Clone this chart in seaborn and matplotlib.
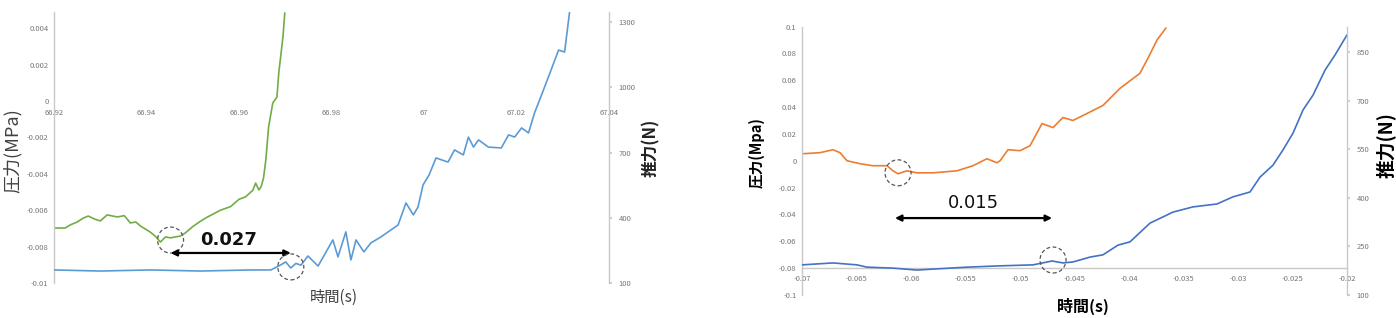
import numpy as np
import pandas as pd
import matplotlib
matplotlib.use("Agg")
import matplotlib.pyplot as plt
from matplotlib.patches import Circle
from matplotlib.transforms import ScaledTranslation
from matplotlib.ticker import FuncFormatter, FixedLocator
import seaborn as sns

# ---------------- data ----------------
# Left chart: pressure (MPa, left axis) and thrust (N, right axis) vs time (s)
left_p_time = [66.9200, 66.9224, 66.9235, 66.9250, 66.9262, 66.9274, 66.9287, 66.9300,
               66.9315, 66.9337, 66.9352, 66.9365, 66.9377, 66.9387, 66.9408, 66.9420,
               66.9430, 66.9441, 66.9452, 66.9462, 66.9473, 66.9484, 66.9500, 66.9517,
               66.9530, 66.9545, 66.9560, 66.9582, 66.9600, 66.9614, 66.9630, 66.9636,
               66.9643, 66.9648, 66.9653, 66.9658, 66.9664, 66.9673, 66.9682, 66.9686,
               66.9695, 66.9699]
left_pressure = [-0.00698, -0.00698, -0.00681, -0.00665, -0.00645, -0.00632, -0.00648, -0.00659,
                 -0.00626, -0.00637, -0.00630, -0.00670, -0.00665, -0.00687, -0.00720, -0.00745,
                 -0.00775, -0.00747, -0.00752, -0.00747, -0.00742, -0.00725, -0.00690, -0.00660,
                 -0.00640, -0.00620, -0.00600, -0.00580, -0.00540, -0.00527, -0.00490, -0.00451,
                 -0.00489, -0.00470, -0.00423, -0.00324, -0.00143, -0.00011, 0.00022, 0.00154,
                 0.00352, 0.00484]

left_t_time = [66.9200, 66.9300, 66.9408, 66.9517, 66.9625, 66.9669, 66.9690, 66.9701,
               66.9712, 66.9723, 66.9734, 66.9749, 66.9771, 66.9788, 66.9803, 66.9814,
               66.9831, 66.9842, 66.9853, 66.9870, 66.9885, 66.9907, 66.9944, 66.9961,
               66.9977, 66.9987, 66.9998, 67.0011, 67.0026, 67.0052, 67.0066, 67.0085,
               67.0096, 67.0107, 67.0118, 67.0139, 67.0167, 67.0183, 67.0196, 67.0211,
               67.0226, 67.0239, 67.0254, 67.0269, 67.0291, 67.0304, 67.0315]
left_thrust = [160, 155, 160, 155, 160, 160, 183, 197,
               169, 190, 182, 224, 178, 242, 298, 220,
               335, 206, 298, 243, 284, 312, 367, 468,
               413, 449, 551, 597, 675, 656, 712, 689,
               771, 725, 758, 725, 721, 781, 771, 813,
               790, 882, 964, 1047, 1171, 1162, 1350]

left_xticks = [66.92, 66.94, 66.96, 66.98, 67.00, 67.02, 67.04]
left_yticks = [0.004, 0.002, 0.0, -0.002, -0.004, -0.006, -0.008, -0.01]
left_y2ticks = [100, 400, 700, 1000, 1300]

# Right chart
right_p_time = [-0.07000, -0.06835, -0.06716, -0.06651, -0.06587, -0.06468, -0.06349, -0.06220,
                -0.06165, -0.06119, -0.06037, -0.05945, -0.05798, -0.05578, -0.05431, -0.05303,
                -0.05211, -0.05183, -0.05110, -0.05000, -0.04908, -0.04798, -0.04697, -0.04606,
                -0.04514, -0.04385, -0.04239, -0.04083, -0.03899, -0.03826, -0.03743, -0.03661]
right_pressure = [0.0052, 0.0060, 0.0082, 0.0060, 0.0000, -0.0022, -0.0037, -0.0037,
                  -0.0075, -0.0097, -0.0075, -0.0090, -0.0090, -0.0075, -0.0037, 0.0015,
                  -0.0015, 0.0000, 0.0082, 0.0075, 0.0112, 0.0277, 0.0247, 0.0322,
                  0.0300, 0.0352, 0.0412, 0.0539, 0.0652, 0.0764, 0.0899, 0.0989]

right_t_time = [-0.07000, -0.06716, -0.06495, -0.06404, -0.06165, -0.05945, -0.05798, -0.05486,
                -0.05183, -0.04881, -0.04706, -0.04606, -0.04514, -0.04358, -0.04239, -0.04101,
                -0.03991, -0.03807, -0.03596, -0.03413, -0.03193, -0.03046, -0.02890, -0.02798,
                -0.02679, -0.02587, -0.02495, -0.02404, -0.02312, -0.02202, -0.02110, -0.02000]
right_thrust = [193, 199, 193, 186, 183, 177, 180, 186,
                190, 193, 205, 199, 202, 217, 224, 254,
                264, 322, 356, 372, 381, 403, 418, 464,
                501, 548, 600, 671, 717, 794, 841, 903]

right_xticks = [-0.07, -0.065, -0.06, -0.055, -0.05, -0.045, -0.04, -0.035, -0.03, -0.025, -0.02]
right_yticks = [0.1, 0.08, 0.06, 0.04, 0.02, 0.0, -0.02, -0.04, -0.06, -0.08, -0.1]
right_y2ticks = [100, 250, 400, 550, 700, 850]

# ---------------- style ----------------
sns.set_theme(style="white")
plt.rcParams["font.family"] = ["Noto Sans CJK JP", "DejaVu Sans"]
plt.rcParams["axes.unicode_minus"] = False

W, H = 1396, 318
fig = plt.figure(figsize=(W / 100, H / 100), dpi=100)
fig.patch.set_facecolor("white")

def frac(x0, y_top, x1, y_bot):
    return [x0 / W, 1 - y_bot / H, (x1 - x0) / W, (y_bot - y_top) / H]

fmt = FuncFormatter(lambda v, p: "%g" % v)
TICKC = "#777777"
SPINEC = "#c8c8c8"

def style_axes(ax, ax2):
    for a in (ax, ax2):
        for s in a.spines.values():
            s.set_color(SPINEC)
            s.set_linewidth(1.0)
        a.set_facecolor("none")
        a.grid(False)
    ax.spines["top"].set_visible(False)
    ax2.spines["top"].set_visible(False)
    ax.spines["right"].set_visible(False)
    ax2.spines["left"].set_visible(False)
    ax2.spines["bottom"].set_visible(False)
    ax.tick_params(axis="both", labelsize=5.5, labelcolor=TICKC, length=0, pad=4)
    ax2.tick_params(axis="y", labelsize=5.5, labelcolor=TICKC, length=2, color=SPINEC,
                    direction="out", pad=5)
    ax.xaxis.set_major_formatter(fmt)
    ax.yaxis.set_major_formatter(fmt)
    ax2.yaxis.set_major_formatter(fmt)

def add_circle(ax, x, y, r_in=0.13):
    tr = fig.dpi_scale_trans + ScaledTranslation(x, y, ax.transData)
    c = Circle((0, 0), r_in, transform=tr, fill=False, ec="#555555", lw=0.9,
               ls=(0, (3, 2)), zorder=5)
    ax.add_patch(c)

# ---------------- left chart ----------------
axL = fig.add_axes(frac(54, 12, 609, 283))
axL2 = axL.twinx()
style_axes(axL, axL2)

sns.lineplot(x=left_p_time, y=left_pressure, ax=axL, color="#70AD47", lw=1.2,
             estimator=None, sort=False)
sns.lineplot(x=left_t_time, y=left_thrust, ax=axL2, color="#5B9BD5", lw=1.2,
             estimator=None, sort=False)

axL.set_xlim(66.92, 67.04)
axL.set_ylim(-0.01, 0.00489)
axL2.set_ylim(100, 1346)
axL.xaxis.set_major_locator(FixedLocator(left_xticks))
axL.yaxis.set_major_locator(FixedLocator(left_yticks))
axL2.yaxis.set_major_locator(FixedLocator(left_y2ticks))
axL.spines["bottom"].set_position(("data", 0.0))
axL.spines["bottom"].set_color("none")
axL.tick_params(axis="x", pad=6)

axL.set_ylabel("圧力(MPa)", fontsize=13, color="#404040")
axL.yaxis.set_label_coords(-0.058, 0.49)
axL2.set_ylabel("推力(N)", fontsize=12, color="#222222", fontweight="bold")
axL2.yaxis.set_label_coords(1.060, 0.50)
axL.set_xlabel("時間(s)", fontsize=11, color="#404040")
axL.xaxis.set_label_coords(0.505, -0.02)

add_circle(axL, 66.9452, -0.00764)
add_circle(axL2, 66.9712, 174)
axL.annotate("", xy=(66.9452, -0.00835), xytext=(66.9712, -0.00835),
             arrowprops=dict(arrowstyle="<|-|>", color="black", lw=1.6,
                             mutation_scale=9, shrinkA=0, shrinkB=0), zorder=6)
axL.text(66.9577, -0.00764, "0.027", fontsize=13, fontweight="bold",
         ha="center", va="center", color="#111111", family=["DejaVu Sans"])

# ---------------- right chart ----------------
axR = fig.add_axes(frac(802, 26.5, 1347, 295))
axR2 = axR.twinx()
style_axes(axR, axR2)

sns.lineplot(x=right_p_time, y=right_pressure, ax=axR, color="#ED7D31", lw=1.2,
             estimator=None, sort=False)
sns.lineplot(x=right_t_time, y=right_thrust, ax=axR2, color="#4472C4", lw=1.2,
             estimator=None, sort=False)

axR.set_xlim(-0.07, -0.02)
axR.set_ylim(-0.1, 0.1)
axR2.set_ylim(100, 929)
axR.xaxis.set_major_locator(FixedLocator(right_xticks))
axR.yaxis.set_major_locator(FixedLocator(right_yticks))
axR2.yaxis.set_major_locator(FixedLocator(right_y2ticks))
axR.spines["bottom"].set_position(("data", -0.08))
axR.spines["bottom"].set_color(SPINEC)
axR.tick_params(axis="x", pad=5)

axR.set_ylabel("圧力(Mpa)", fontsize=10.5, color="black", fontweight="bold")
axR.yaxis.set_label_coords(-0.068, 0.53)
axR2.set_ylabel("推力(N)", fontsize=13.5, color="black", fontweight="bold")
axR2.yaxis.set_label_coords(1.052, 0.56)
axR.set_xlabel("時間(s)", fontsize=11.5, color="black", fontweight="bold")
axR.xaxis.set_label_coords(0.515, -0.01)

add_circle(axR, -0.06119, -0.00899)
add_circle(axR2, -0.04697, 208)
axR.annotate("", xy=(-0.06147, -0.0427), xytext=(-0.04706, -0.0427),
             arrowprops=dict(arrowstyle="<|-|>", color="black", lw=1.6,
                             mutation_scale=9, shrinkA=0, shrinkB=0), zorder=6)
axR.text(-0.05431, -0.0315, "0.015", fontsize=13, ha="center", va="center",
         color="#111111", family=["DejaVu Sans"])

fig.savefig("out.png", dpi=100, facecolor="white")
